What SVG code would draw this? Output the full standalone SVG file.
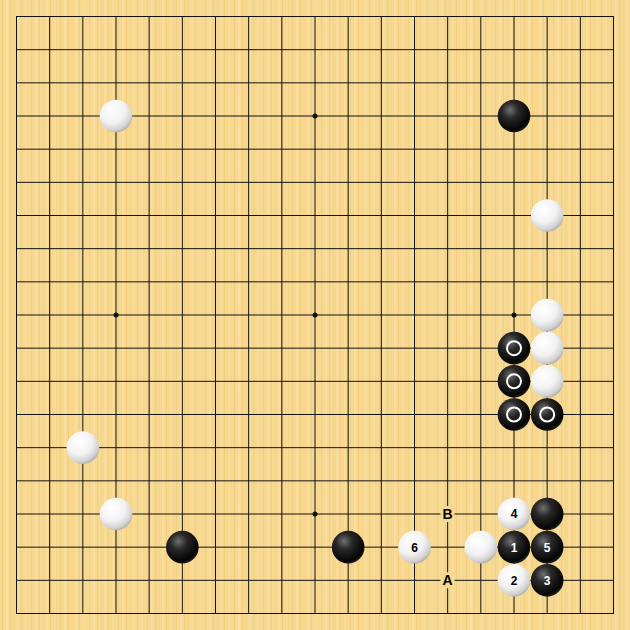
<svg xmlns="http://www.w3.org/2000/svg" width="630" height="630" viewBox="0 0 630 630">
<style>
.grid{fill:none;stroke:#111;stroke-width:1}
.star{fill:#111}
.w{fill:url(#gw)}
.b{fill:url(#gb)}
.mk{fill:none;stroke:#fff;stroke-width:2}
.nb{font-family:"Liberation Sans",Arial,sans-serif;font-weight:bold;font-size:12px;text-anchor:middle;fill:#000}
.nw{font-family:"Liberation Sans",Arial,sans-serif;font-weight:bold;font-size:12px;text-anchor:middle;fill:#fff}
.lbl{font-family:"Liberation Sans",Arial,sans-serif;font-weight:bold;font-size:14px;text-anchor:middle;fill:#000}
.lbg{fill:#F7D890}
</style>
<defs>
<pattern id="wood" x="0" y="0" width="29" height="630" patternUnits="userSpaceOnUse">
<rect width="29" height="630" fill="#F7D890"/>
<rect x="2" width="1" height="630" fill="#F3D080"/>
<rect x="6" width="2" height="630" fill="#FADE9F"/>
<rect x="10" width="1" height="630" fill="#F2CE7E"/>
<rect x="14" width="1" height="630" fill="#F5D487"/>
<rect x="17" width="2" height="630" fill="#FADD9C"/>
<rect x="21" width="1" height="630" fill="#F2CF7F"/>
<rect x="25" width="2" height="630" fill="#F9DB97"/>
</pattern>
<radialGradient id="gw" cx="0.38" cy="0.32" r="0.72">
<stop offset="0" stop-color="#ffffff"/>
<stop offset="0.55" stop-color="#f2f2f2"/>
<stop offset="0.85" stop-color="#d2d2d2"/>
<stop offset="1" stop-color="#ababab"/>
</radialGradient>
<radialGradient id="gb" cx="0.38" cy="0.32" r="0.72">
<stop offset="0" stop-color="#707070"/>
<stop offset="0.35" stop-color="#282828"/>
<stop offset="0.85" stop-color="#050505"/>
<stop offset="1" stop-color="#222"/>
</radialGradient>
</defs>
<rect id="board" width="630" height="630" fill="url(#wood)"/>
<g id="grid">
<path class="grid" d="M16.5 16.5V613.5M49.67 16.5V613.5M82.83 16.5V613.5M116 16.5V613.5M149.17 16.5V613.5M182.33 16.5V613.5M215.5 16.5V613.5M248.67 16.5V613.5M281.83 16.5V613.5M315 16.5V613.5M348.17 16.5V613.5M381.33 16.5V613.5M414.5 16.5V613.5M447.67 16.5V613.5M480.83 16.5V613.5M514 16.5V613.5M547.17 16.5V613.5M580.33 16.5V613.5M613.5 16.5V613.5"/>
<path class="grid" d="M16.5 16.5H613.5M16.5 49.67H613.5M16.5 82.83H613.5M16.5 116H613.5M16.5 149.17H613.5M16.5 182.33H613.5M16.5 215.5H613.5M16.5 248.67H613.5M16.5 281.83H613.5M16.5 315H613.5M16.5 348.17H613.5M16.5 381.33H613.5M16.5 414.5H613.5M16.5 447.67H613.5M16.5 480.83H613.5M16.5 514H613.5M16.5 547.17H613.5M16.5 580.33H613.5M16.5 613.5H613.5"/>
<rect class="grid" x="16.5" y="16.5" width="597" height="597" stroke-width="1.3"/>
<circle class="star" cx="315" cy="116" r="2.5"/>
<circle class="star" cx="116" cy="315" r="2.5"/>
<circle class="star" cx="315" cy="315" r="2.5"/>
<circle class="star" cx="514" cy="315" r="2.5"/>
<circle class="star" cx="315" cy="514" r="2.5"/>
</g>
<g id="connectors"></g>
<g id="w-d16"><circle class="w" cx="116" cy="116" r="16.3"/></g>
<g id="b-q16"><circle class="b" cx="514" cy="116" r="16.3"/></g>
<g id="w-r13"><circle class="w" cx="547.17" cy="215.5" r="16.3"/></g>
<g id="w-r10"><circle class="w" cx="547.17" cy="315" r="16.3"/></g>
<g id="b-q9"><circle class="b" cx="514" cy="348.17" r="16.3"/><circle class="mk" cx="514" cy="348.17" r="7"/></g>
<g id="w-r9"><circle class="w" cx="547.17" cy="348.17" r="16.3"/></g>
<g id="b-q8"><circle class="b" cx="514" cy="381.33" r="16.3"/><circle class="mk" cx="514" cy="381.33" r="7"/></g>
<g id="w-r8"><circle class="w" cx="547.17" cy="381.33" r="16.3"/></g>
<g id="b-q7"><circle class="b" cx="514" cy="414.5" r="16.3"/><circle class="mk" cx="514" cy="414.5" r="7"/></g>
<g id="b-r7"><circle class="b" cx="547.17" cy="414.5" r="16.3"/><circle class="mk" cx="547.17" cy="414.5" r="7"/></g>
<g id="w-c6"><circle class="w" cx="82.83" cy="447.67" r="16.3"/></g>
<g id="w-d4"><circle class="w" cx="116" cy="514" r="16.3"/></g>
<g id="b-f3"><circle class="b" cx="182.33" cy="547.17" r="16.3"/></g>
<g id="b-l3"><circle class="b" cx="348.17" cy="547.17" r="16.3"/></g>
<g id="w-6"><circle class="w" cx="414.5" cy="547.17" r="16.3"/><text class="nb" x="414.5" y="551.5">6</text></g>
<g id="w-p3"><circle class="w" cx="480.83" cy="547.17" r="16.3"/></g>
<g id="b-1"><circle class="b" cx="514" cy="547.17" r="16.3"/><text class="nw" x="514" y="551.5">1</text></g>
<g id="b-5"><circle class="b" cx="547.17" cy="547.17" r="16.3"/><text class="nw" x="547.17" y="551.5">5</text></g>
<g id="w-4"><circle class="w" cx="514" cy="514" r="16.3"/><text class="nb" x="514" y="518.3">4</text></g>
<g id="b-r4"><circle class="b" cx="547.17" cy="514" r="16.3"/></g>
<g id="w-2"><circle class="w" cx="514" cy="580.33" r="16.3"/><text class="nb" x="514" y="584.7">2</text></g>
<g id="b-3"><circle class="b" cx="547.17" cy="580.33" r="16.3"/><text class="nw" x="547.17" y="584.7">3</text></g>
<g id="label-B"><rect class="lbg" x="440.5" y="506" width="14" height="16"/><text class="lbl" x="447.67" y="519">B</text></g>
<g id="label-A"><rect class="lbg" x="440.5" y="572.3" width="14" height="16"/><text class="lbl" x="447.67" y="585.3">A</text></g>
</svg>
